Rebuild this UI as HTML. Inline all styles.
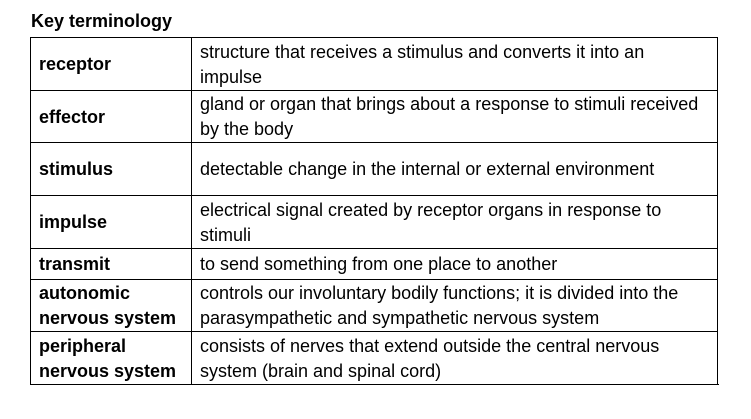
<!DOCTYPE html>
<html><head><meta charset="utf-8">
<style>
html,body{margin:0;padding:0;background:#fff;width:751px;height:419px;overflow:hidden;font-family:"Liberation Sans",Arial,sans-serif;color:#000}
#title{position:absolute;left:31px;top:11px;font-size:18px;font-weight:bold;line-height:21px}
.row{position:absolute;left:30px;width:688px;border-top:1px solid #000}
.cell{position:absolute;top:0;bottom:0;display:flex;align-items:center;font-size:18px;line-height:25px;white-space:nowrap}
.term{left:0;width:161px;border-left:1px solid #000;padding-left:8px;font-weight:bold;box-sizing:border-box}
.def{left:161px;right:0;border-left:1px solid #000;border-right:1px solid #000;padding-left:8px;box-sizing:border-box}
#bottom{position:absolute;left:30px;width:689px;top:384px;border-top:1px solid #000}
</style></head><body>
<div id="title">Key terminology</div>
<div>
<div class="row" style="top:37px;height:53px"><div class="cell term">receptor</div><div class="cell def">structure that receives a stimulus and converts it into an<br>impulse</div></div>
<div class="row" style="top:90px;height:52px"><div class="cell term">effector</div><div class="cell def">gland or organ that brings about a response to stimuli received<br>by the body</div></div>
<div class="row" style="top:142px;height:53px"><div class="cell term">stimulus</div><div class="cell def">detectable change in the internal or external environment</div></div>
<div class="row" style="top:195px;height:53px"><div class="cell term">impulse</div><div class="cell def">electrical signal created by receptor organs in response to<br>stimuli</div></div>
<div class="row" style="top:248px;height:31px"><div class="cell term">transmit</div><div class="cell def">to send something from one place to another</div></div>
<div class="row" style="top:279px;height:52px"><div class="cell term">autonomic<br>nervous system</div><div class="cell def">controls our involuntary bodily functions; it is divided into the<br>parasympathetic and sympathetic nervous system</div></div>
<div class="row" style="top:331px;height:53px"><div class="cell term">peripheral<br>nervous system</div><div class="cell def">consists of nerves that extend outside the central nervous<br>system (brain and spinal cord)</div></div>
<div id="bottom"></div>
</div>
</body></html>
